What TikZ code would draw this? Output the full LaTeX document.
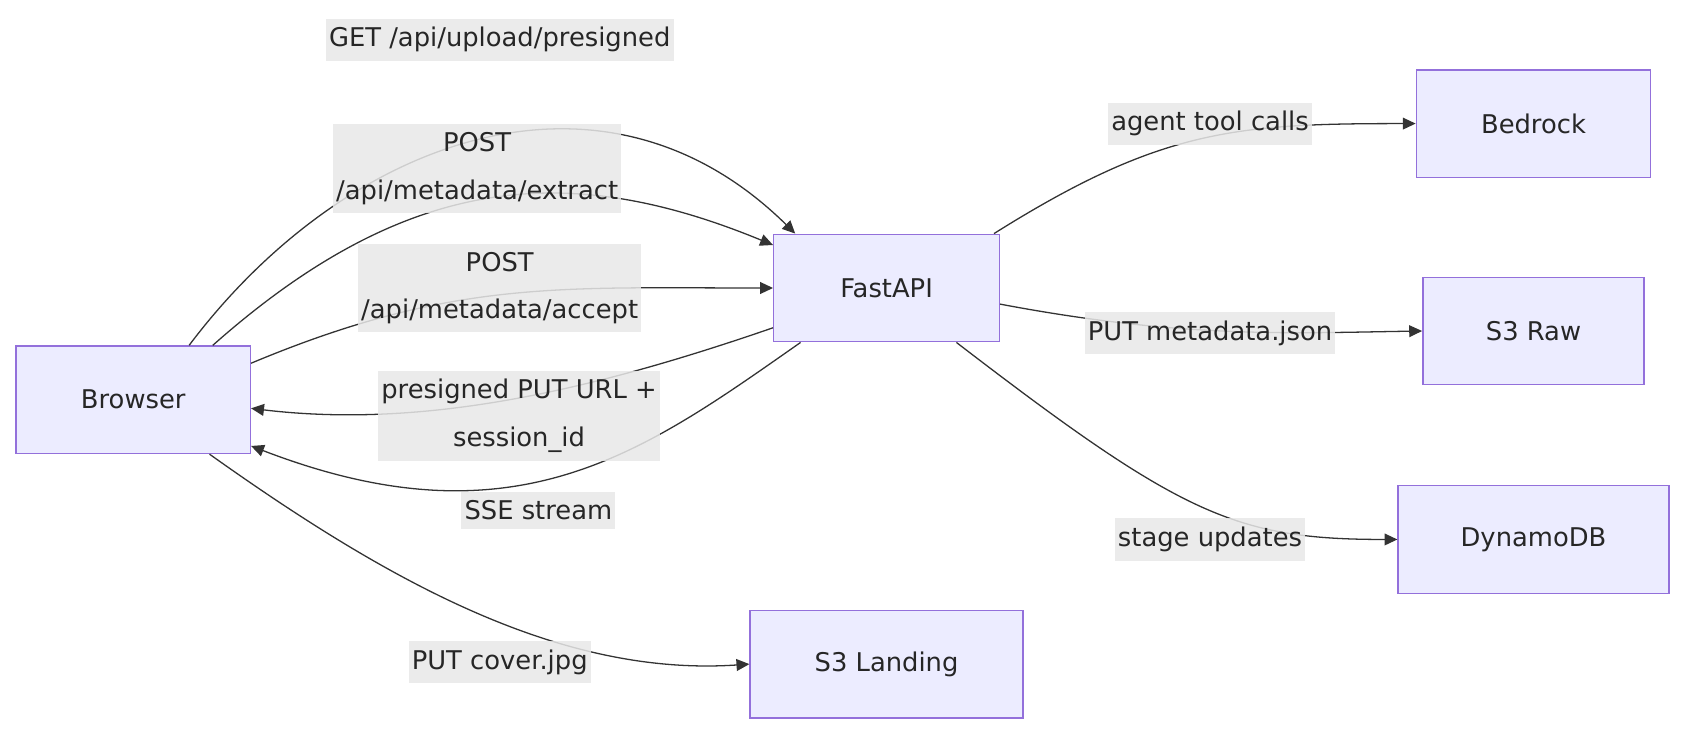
\documentclass[tikz,border=0pt]{standalone}
\usepackage{fontspec}
\setmainfont{DejaVu Sans}
\usetikzlibrary{arrows.meta,positioning}
\definecolor{boxline}{RGB}{147,112,219}
\definecolor{boxfill}{RGB}{236,236,255}
\begin{document}
\begin{tikzpicture}[x=1pt,y=-1pt,font=\fontsize{24}{44}\selectfont,
  box/.style={draw=boxline,line width=1.3pt,fill=boxfill,text=black!85,inner sep=0pt},
  lbl/.style={fill=gray!18,fill opacity=0.85,text opacity=1,text=black!85,align=center,inner xsep=3pt,inner ysep=8pt},
  flow/.style={draw=black!80,line width=1.2pt,-{Triangle[length=12pt,width=11pt]}}]
\useasboundingbox (0,0) rectangle (1568,683);

% nodes
\node[box,minimum width=218pt,minimum height=100pt] (browser) at (124,372) {Browser};
\node[box,minimum width=210pt,minimum height=100pt] (fastapi) at (825,268) {FastAPI};
\node[box,minimum width=218pt,minimum height=100pt] (bedrock) at (1427,115) {Bedrock};
\node[box,minimum width=206pt,minimum height=100pt] (s3raw) at (1427,308) {S3 Raw};
\node[box,minimum width=252pt,minimum height=100pt] (dynamo) at (1427,502) {DynamoDB};
\node[box,minimum width=254pt,minimum height=100pt] (landing) at (825,618) {S3 Landing};

% connectors
\draw[flow] ([xshift=52pt]browser.north) .. controls (320,130) and (560,40) .. ([xshift=-85pt]fastapi.north);
\draw[flow] ([xshift=74pt]browser.north) .. controls (380,160) and (530,150) .. ([yshift=40pt]fastapi.west);
\draw[flow] ([yshift=34pt]browser.east) .. controls (420,260) and (520,268) .. (fastapi.west);
\draw[flow] ([yshift=-37pt]fastapi.west) .. controls (560,360) and (400,400) .. ([yshift=-8pt]browser.east);
\draw[flow] ([xshift=-80pt]fastapi.south) .. controls (600,420) and (480,510) .. ([yshift=-43pt]browser.east);
\draw[flow] ([xshift=71pt]browser.south) .. controls (360,540) and (520,630) .. (landing.west);
\draw[flow] ([xshift=100pt]fastapi.north) .. controls (1080,120) and (1150,115) .. (bedrock.west);
\draw[flow] ([yshift=-15pt]fastapi.east) .. controls (1100,315) and (1200,310) .. (s3raw.west);
\draw[flow] ([xshift=65pt]fastapi.south) .. controls (1100,480) and (1150,502) .. (dynamo.west);

% labels
\node[lbl] (l_get) at (465,37) {GET /api/upload/presigned};
\node[lbl] (l_extract) at (444,157) {POST\\/api/metadata/extract};
\node[lbl] (l_accept) at (465,268) {POST\\/api/metadata/accept};
\node[lbl] (l_url) at (483,387) {presigned PUT URL +\\session\_id};
\node[lbl] (l_sse) at (501,475) {SSE stream};
\node[lbl] (l_cover) at (465,616) {PUT cover.jpg};
\node[lbl] (l_agent) at (1126,115) {agent tool calls};
\node[lbl] (l_meta) at (1126,310) {PUT metadata.json};
\node[lbl] (l_stage) at (1126,502) {stage updates};
\end{tikzpicture}
\end{document}
